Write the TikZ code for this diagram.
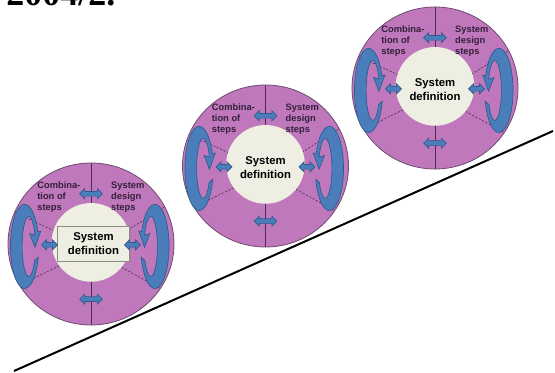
\documentclass[tikz,border=0pt]{standalone}
\usepackage{fontspec}
\setmainfont{Liberation Sans}
\newfontfamily\captionserif{Liberation Serif}
\usetikzlibrary{shapes.arrows,shadows}

\definecolor{wheelfill}{HTML}{BF78BC}
\definecolor{wheelline}{HTML}{6E4A6E}
\definecolor{sectorline}{HTML}{4B2E4B}
\definecolor{corefill}{HTML}{EFEEE2}
\definecolor{loopblue}{HTML}{4A7EBB}
\definecolor{loopedge}{HTML}{2E5A8C}
\definecolor{labelink}{HTML}{33203A}
\definecolor{boxedge}{HTML}{8C8C80}

\tikzset{
  wheeldisk/.style={fill=wheelfill, draw=wheelline, line width=0.6pt},
  divider/.style={draw=sectorline, line width=0.6pt},
  sectordash/.style={draw=sectorline, line width=0.45pt, dash pattern=on 1.6pt off 1.2pt},
  corecircle/.style={circle, fill=corefill, minimum size=59pt, inner sep=0pt},
  corelabel/.style={align=center, inner sep=0pt, text=black,
    font=\fontsize{8.5pt}{10.4pt}\selectfont\bfseries},
  corebox/.style={corelabel, draw=boxedge, fill=corefill, line width=0.6pt,
    minimum width=54pt, minimum height=26pt,
    drop shadow={shadow xshift=0.8pt, shadow yshift=-0.8pt, opacity=0.35}},
  steplabel/.style={align=left, anchor=north west, inner sep=0pt, text=labelink,
    font=\fontsize{7pt}{8.2pt}\selectfont\bfseries},
  swaparrow/.style={double arrow, fill=loopblue, draw=loopedge, line width=0.5pt,
    inner sep=1.5pt, double arrow head extend=2pt, minimum height=#1},
  loopshape/.style={fill=loopblue, draw=loopedge, line width=0.5pt},
  slope/.style={draw=black, line width=1.5pt},
}

% circular "iterate" arrow hugging the left rim of a wheel (local units):
% a crescent, thick on the rim side, open on the inner side, head pointing down
\newcommand{\turnloop}{%
  \path[loopshape] (0.1597,0.1779)
    arc[start angle=20, end angle=345, x radius=0.17, y radius=0.52]
    -- (0.1206,-0.1737)
    arc[start angle=332, end angle=22, x radius=0.08, y radius=0.37]
    -- (0.06,0.16) -- (0.125,-0.01) -- (0.195,0.19) -- cycle;}

% one design wheel: #1 name, #2 centre, #3 = 1 for a boxed core label
\newcommand{\drawwheel}[3]{%
  \begin{scope}[shift={#2}, x=62.25pt, y=60.75pt]
    \path[wheeldisk] (0,0) circle[radius=1];
    \coordinate (#1-top) at (0,1);
    \coordinate (#1-bottom) at (0,-1);
    \draw[divider] (#1-top) -- (#1-bottom);
    \draw[sectordash] (160:0.47) -- (157:1);
    \draw[sectordash] (215:0.47) -- (210.6:1);
    \draw[sectordash] (21:0.47) -- (27.4:1);
    \draw[sectordash] (-38:0.47) -- (-33.4:1);
    \node[corecircle] (#1-core) at (0,0.02) {};
    \begin{scope}[shift={(-0.80,-0.03)}]\turnloop\end{scope}
    \begin{scope}[shift={(0.77,-0.03)}, xscale=-1]\turnloop\end{scope}
    \node[steplabel] (#1-combine) at (-0.65,0.77) {Combina-\\tion of\\steps};
    \node[steplabel] (#1-design) at (0.24,0.77) {System\\design\\steps};
    \ifnum#3=1
      \node[corebox] (#1-label) at (0.03,0) {System\\definition};
    \else
      \node[corelabel] (#1-label) at (0,-0.02) {System\\definition};
    \fi
    \node[swaparrow=17pt] (#1-n) at (0,0.62) {};
    \node[swaparrow=17pt] (#1-s) at (0,-0.68) {};
    \node[swaparrow=12pt] (#1-w) at (-0.5,-0.01) {};
    \node[swaparrow=12pt] (#1-e) at (0.5,-0.01) {};
  \end{scope}}

\begin{document}
\begin{tikzpicture}[x=0.75pt, y=0.75pt]
  \useasboundingbox (0,0) rectangle (555,372);
  \clip (0,0) rectangle (555,372);

  % heading, cut off by the top edge
  \node[anchor=base west, inner sep=0pt, font=\captionserif\fontsize{27pt}{30pt}\selectfont\bfseries]
    (heading) at (6,366) {2004/2.};

  % rising baseline under the wheels
  \coordinate (slope-start) at (14,1);
  \coordinate (slope-end) at (553,241);
  \draw[slope] (slope-start) -- (slope-end);

  \drawwheel{w1}{(91,128)}{1}
  \drawwheel{w2}{(265.5,206)}{0}
  \drawwheel{w3}{(435,284)}{0}
\end{tikzpicture}
\end{document}
